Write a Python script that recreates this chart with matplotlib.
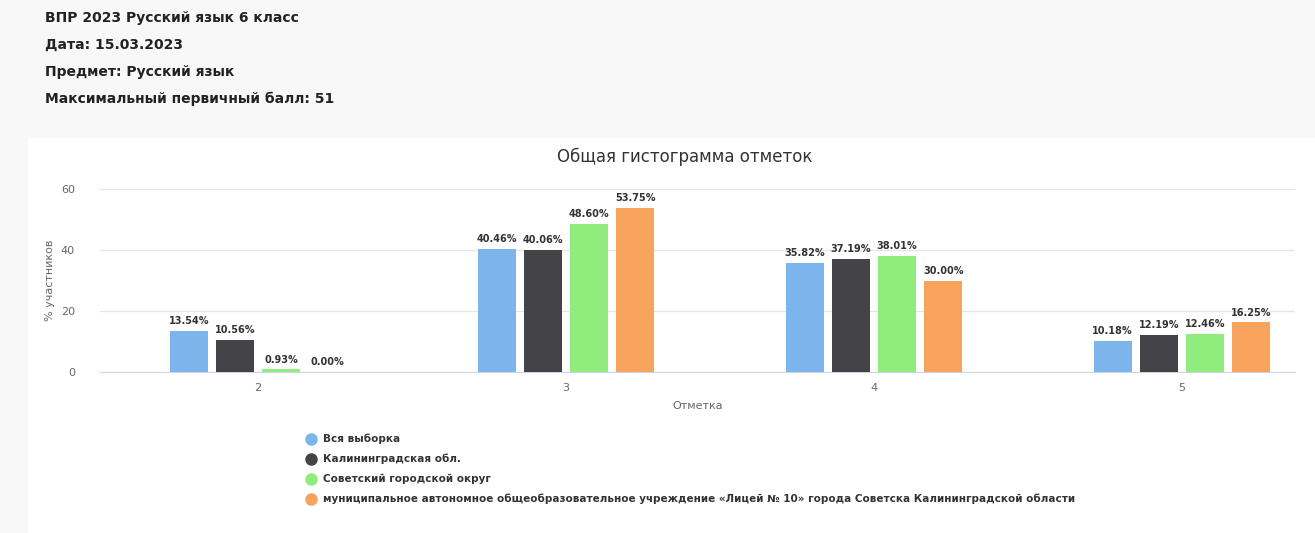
import matplotlib.pyplot as plt
import numpy as np
from matplotlib.patches import Rectangle

categories = ['2', '3', '4', '5']
series_names = ['Вся выборка', 'Калининградская обл.', 'Советский городской округ',
                'муниципальное автономное общеобразовательное учреждение «Лицей № 10» города Советска Калининградской области']
all_sample = [13.54, 40.46, 35.82, 10.18]
region = [10.56, 40.06, 37.19, 12.19]
district = [0.93, 48.60, 38.01, 12.46]
school = [0.00, 53.75, 30.00, 16.25]
colors = ['#7cb5ec', '#434348', '#90ed7d', '#f7a35c']
header_lines = ['ВПР 2023 Русский язык 6 класс', 'Дата: 15.03.2023',
                'Предмет: Русский язык', 'Максимальный первичный балл: 51']

fig = plt.figure(figsize=(13.15, 5.33), dpi=100)
fig.patch.set_facecolor('#f8f8f8')
W, H = 1315, 533

# white chart panel behind everything
fig.patches.append(Rectangle((28 / W, 0), 1 - 28 / W, 1 - 138 / H, transform=fig.transFigure,
                             facecolor='white', edgecolor='none', zorder=-10))

for i, line in enumerate(header_lines):
    fig.text(45 / W, 1 - (18 + 27 * i) / H, line, fontsize=10, fontweight='bold',
             color='#222222', va='center', ha='left')

ax = fig.add_axes([100 / W, 1 - 372 / H, 1195 / W, 183 / H])
ax.set_zorder(2)
ax.set_facecolor('white')
x = np.arange(len(categories))
data = [all_sample, region, district, school]
bw = 0.123
step = 0.15
for k, vals in enumerate(data):
    pos = x + (k - 1.5) * step
    ax.bar(pos, vals, width=bw, color=colors[k], zorder=3)
    for p, v in zip(pos, vals):
        ax.text(p, v + 1.5, f'{v:.2f}%', ha='center', va='bottom', fontsize=7,
                fontweight='bold', color='#333333', zorder=4)

ax.set_xlim(-0.513, 3.367)
ax.set_ylim(0, 60)
ax.set_yticks([0, 20, 40, 60])
ax.set_xticks(x)
ax.set_xticklabels(categories)
ax.tick_params(axis='both', length=0, labelsize=8, labelcolor='#666666')
ax.tick_params(axis='y', pad=18)
ax.tick_params(axis='x', pad=8)
ax.grid(axis='y', color='#e6e6e6', linewidth=1, zorder=0)
for s in ['top', 'right', 'left']:
    ax.spines[s].set_visible(False)
ax.spines['bottom'].set_color('#ccd6eb')
ax.set_xlabel('Отметка', fontsize=8, color='#666666', labelpad=6)
ax.set_ylabel('% участников', fontsize=8, color='#666666', labelpad=4)

fig.text(685 / W, 1 - 157 / H, 'Общая гистограмма отметок', ha='center', va='center',
         fontsize=12, color='#333333')

for k, name in enumerate(series_names):
    yy = 1 - (439 + 20 * k) / H
    fig.lines.append(plt.Line2D([311 / W], [yy], marker='o', markersize=8, color=colors[k],
                                linestyle='none', transform=fig.transFigure))
    fig.text(323 / W, yy, name, fontsize=7.5, fontweight='bold', color='#333333',
             va='center', ha='left')

fig.savefig('out.png', dpi=100, facecolor=fig.get_facecolor())
